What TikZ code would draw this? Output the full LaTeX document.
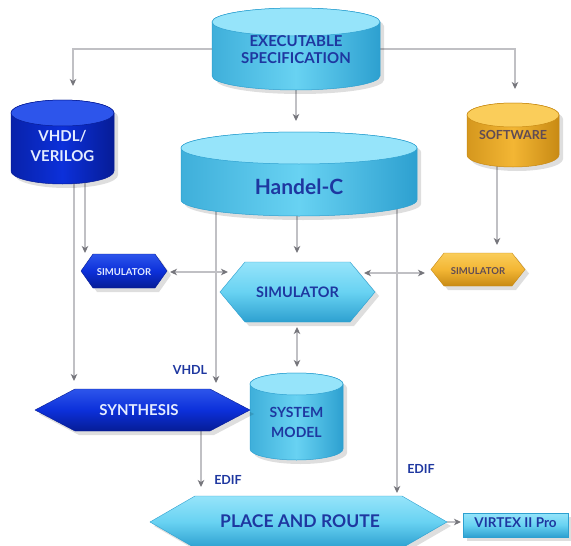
\documentclass[tikz,border=0pt]{standalone}
\usepackage{fontspec}
\setmainfont{Lato}
\usetikzlibrary{calc,arrows.meta}
\pgfdeclarelayer{back}\pgfdeclarelayer{bg}\pgfsetlayers{back,bg,main}
\definecolor{cy}{RGB}{104,210,242}
\definecolor{cyTop}{RGB}{150,228,250}
\definecolor{cyDk}{RGB}{45,160,208}
\definecolor{db}{RGB}{12,48,218}
\definecolor{dbTop}{RGB}{45,85,235}
\definecolor{dbDk}{RGB}{6,28,150}
\definecolor{orc}{RGB}{243,182,52}
\definecolor{orcTop}{RGB}{250,205,90}
\definecolor{orcDk}{RGB}{200,138,20}
\definecolor{txt}{RGB}{30,55,160}
\definecolor{txtW}{RGB}{228,236,255}
\definecolor{txtO}{RGB}{95,75,85}
\definecolor{ln}{RGB}{192,192,196}
\definecolor{ah}{RGB}{118,118,124}
\tikzset{
  conn/.style={draw=ln, line width=1.2pt},
  tipA/.tip={Stealth[length=7pt,width=6.5pt,inset=2pt,color=ah]},
  arr/.style={conn, -tipA},
  darr/.style={conn, tipA-tipA},
  lbl/.style={font=\bfseries\fontsize{12.5}{14}\selectfont, text=txt, inner sep=0},
  anc/.style={inner sep=0, outer sep=0},
  ctext/.style={inner sep=0, align=center}
}
% cylinder: name, cx, ytop, halfwidth, height, ry, colour prefix
\newcommand\mkcyl[7]{%
  \pgfmathsetmacro\cxL{#2-#4}%
  \pgfmathsetmacro\cxR{#2+#4}%
  \pgfmathsetmacro\cyT{-(#3)-(#6)}%
  \pgfmathsetmacro\cyB{-(#3)-(#5)+(#6)}%
  \pgfmathsetmacro\cyM{-(#3)-(#5)/2}%
  \begin{scope}[shift={(4,-4)}]
    \fill[black,opacity=.13] (\cxL,\cyT) -- (\cxL,\cyB) arc[start angle=180,end angle=360,x radius=#4,y radius=#6] -- (\cxR,\cyT) arc[start angle=0,end angle=180,x radius=#4,y radius=#6] -- cycle;
  \end{scope}
  \path[left color=#7Dk!70!#7, right color=#7Dk, middle color=#7, draw=#7Dk, line width=.5pt] (\cxL,\cyT) -- (\cxL,\cyB) arc[start angle=180,end angle=360,x radius=#4,y radius=#6] -- (\cxR,\cyT) arc[start angle=0,end angle=180,x radius=#4,y radius=#6] -- cycle;
  \draw[fill=#7Top, draw=#7Dk, line width=.5pt] (#2,\cyT) ellipse[x radius=#4, y radius=#6];
  \node[anc, minimum width={2*#4*1pt}, minimum height={#5*1pt}] (#1) at (#2,\cyM) {};
}
% hexagon: name, cx, cy, halfwidth, halfheight, inset, colour prefix
\newcommand\mkhex[7]{%
  \pgfmathsetmacro\hL{#2-#4}%
  \pgfmathsetmacro\hR{#2+#4}%
  \pgfmathsetmacro\hLi{#2-#4+#6}%
  \pgfmathsetmacro\hRi{#2+#4-#6}%
  \pgfmathsetmacro\hT{-(#3)+(#5)}%
  \pgfmathsetmacro\hB{-(#3)-(#5)}%
  \pgfmathsetmacro\hM{-(#3)}%
  \begin{scope}[shift={(4,-4)}]
    \fill[black,opacity=.13] (\hL,\hM) -- (\hLi,\hT) -- (\hRi,\hT) -- (\hR,\hM) -- (\hRi,\hB) -- (\hLi,\hB) -- cycle;
  \end{scope}
  \path[top color=#7Top, bottom color=#7Dk, middle color=#7, draw=#7Dk, line width=.4pt] (\hL,\hM) -- (\hLi,\hT) -- (\hRi,\hT) -- (\hR,\hM) -- (\hRi,\hB) -- (\hLi,\hB) -- cycle;
  \node[anc, minimum width={2*#4*1pt}, minimum height={2*#5*1pt}] (#1) at (#2,\hM) {};
}
\begin{document}
\begin{tikzpicture}[x=1pt,y=1pt]
\useasboundingbox (0,0) rectangle (571,-546);
\begin{pgfonlayer}{back}
\fill[white] (0,0) rectangle (571,-546);
\end{pgfonlayer}
% cylinders
\mkcyl{exec}{296}{8}{84}{82}{14}{cy}
\mkcyl{vhdl}{62.5}{100}{51.5}{84}{13}{db}
\mkcyl{sw}{513}{103}{46}{64}{12}{orc}
\mkcyl{hand}{299}{132}{118}{84}{16}{cy}
\mkcyl{sys}{296.5}{373}{46.5}{87}{11}{cy}
% hexagons
\mkhex{simL}{124}{271}{43}{17}{12}{db}
\mkhex{simC}{297.5}{292}{77.5}{30}{25}{cy}
\mkhex{simR}{478}{269.5}{47}{16.5}{13}{orc}
\mkhex{synth}{142.5}{410}{107.5}{21}{40}{db}
\mkhex{place}{298.5}{522}{148.5}{26}{45}{cy}
% virtex box
\fill[black,opacity=.13] (467,-517) rectangle (572,-541);
\node[anc, minimum width=105pt, minimum height=24pt, top color=cyTop, bottom color=cyDk, middle color=cy, draw=cyDk, line width=.4pt] (virtex) at (515.5,-525) {};
% texts
\node[ctext, font=\bfseries\fontsize{15}{17}\selectfont, text=txt] (execT) at (296,-49.5) {EXECUTABLE\\SPECIFICATION};
\node[ctext, font=\bfseries\fontsize{15}{20}\selectfont, text=txtW] (vhdlT) at (62.5,-146) {VHDL/\\VERILOG};
\node[ctext, font=\bfseries\fontsize{12.5}{13}\selectfont, text=txtO] (swT) at (513,-135) {SOFTWARE};
\node[ctext, font=\bfseries\fontsize{21}{24}\selectfont, text=txt] (handT) at (299,-187) {Handel-C};
\node[ctext, font=\bfseries\fontsize{14}{20}\selectfont, text=txt] (sysT) at (296.5,-422) {SYSTEM\\MODEL};
\node[ctext, font=\bfseries\fontsize{9.5}{11}\selectfont, text=txtW] (simLT) at (124,-272) {SIMULATOR};
\node[ctext, font=\bfseries\fontsize{14.5}{16}\selectfont, text=txt] (simCT) at (297.5,-292) {SIMULATOR};
\node[ctext, font=\bfseries\fontsize{9.5}{11}\selectfont, text=txtO] (simRT) at (478,-271) {SIMULATOR};
\node[ctext, font=\bfseries\fontsize{15}{17}\selectfont, text=txtW] (synthT) at (139,-410) {SYNTHESIS};
\node[ctext, font=\bfseries\fontsize{17.5}{20}\selectfont, text=txt] (placeT) at (300,-521) {PLACE AND ROUTE};
\node[ctext, font=\bfseries\fontsize{13.5}{15}\selectfont, text=txt] (virtexT) at (515.5,-523) {VIRTEX II Pro};
\node[lbl] (lblV) at (190,-370) {VHDL};
\node[lbl] (lblE1) at (228,-480) {EDIF};
\node[lbl] (lblE2) at (421,-469) {EDIF};
% connectors
\begin{pgfonlayer}{bg}
\draw[arr] (exec.west) -| ($(vhdl.north)+(10.5,14)$);
\draw[arr] (exec.east) -| ($(sw.north)+(2,14)$);
\draw[arr] (exec.south) -- ($(hand.north)+(-3,11)$);
\draw[arr] ($(vhdl.south)+(11.5,4)$) -- ($(synth.north west)+(39,8)$);
\draw[arr] ($(vhdl.south)+(22.5,4)$) -- ($(simL.north)+(-39,1)$);
\draw[arr] ($(hand.south)+(-83,8)$) -- ($(synth.north east)+(-34,6)$);
\draw[arr] ($(hand.south)+(98,11)$) -- ($(place.north)+(98.5,3)$);
\draw[arr] ($(hand.south)+(-2,2)$) -- ($(simC.north)+(-0.5,9)$);
\draw[arr] ($(sw.south)+(-16,5)$) -- ($(simR.north)+(19,8)$);
\draw[darr] ($(simL.east)+(3,-1)$) -- ($(simC.west)+(8,20)$);
\draw[darr] ($(simC.east)+(-11,19)$) -- ($(simR.west)+(-6,-3.5)$);
\draw[darr] ($(simC.south)+(-0.5,-5)$) -- ($(sys.north)+(0.5,6)$);
\draw[arr] ($(synth.south)+(58.5,0)$) -- ($(place.north west)+(51,9)$);
\draw[arr] (place.east) -- ($(virtex.west)+(-2,3)$);
\end{pgfonlayer}
\end{tikzpicture}
\end{document}
